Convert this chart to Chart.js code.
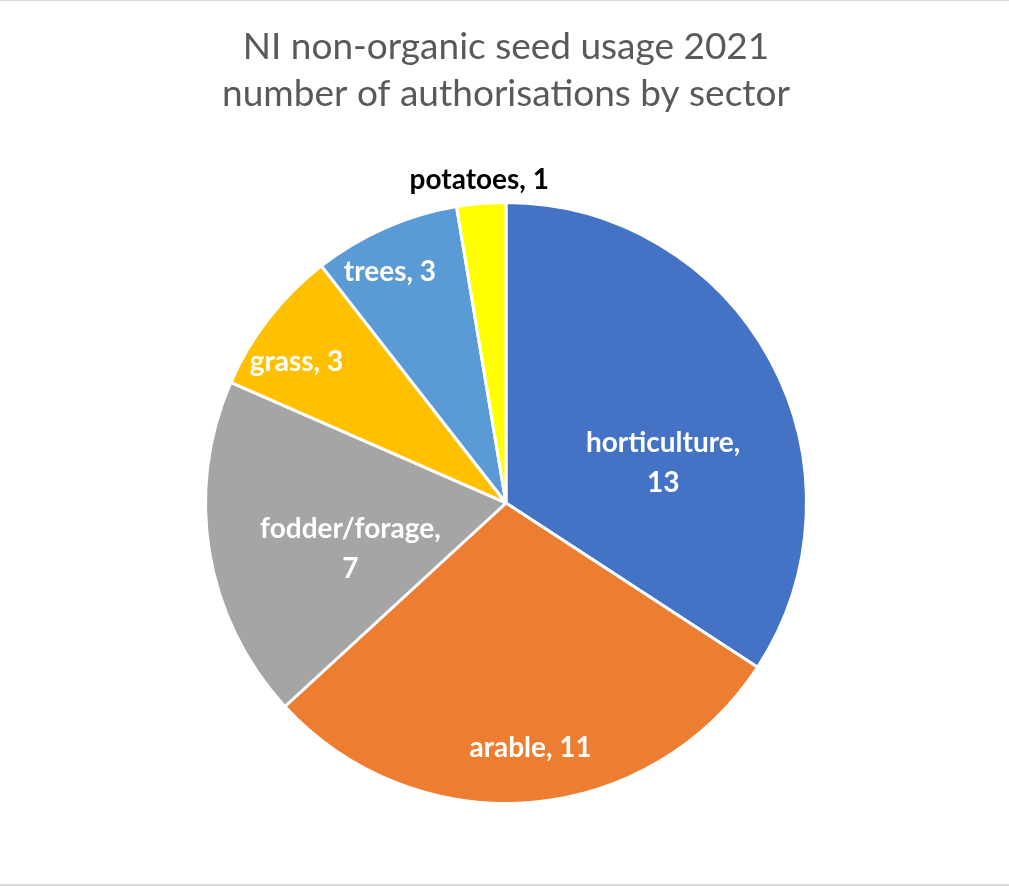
<!DOCTYPE html>
<html>
<head>
<meta charset="utf-8">
<script src="https://cdn.jsdelivr.net/npm/chart.js@4"></script>
<style>
  html, body { margin: 0; padding: 0; background: #fff; }
  #wrap { position: relative; width: 1009px; height: 886px; overflow: hidden; }
  #chart { position: absolute; left: 0; top: 0; }
  .rule { position: absolute; left: 0; width: 1009px; background: #d9d9d9; }
</style>
</head>
<body>
<div id="wrap">
  <canvas id="chart" width="1009" height="886"></canvas>
  <div class="rule" style="top:0;height:1px"></div>
  <div class="rule" style="top:884px;height:2px"></div>
</div>
<script>
// --- data ---
const sectors = ['horticulture', 'arable', 'fodder/forage', 'grass', 'trees', 'potatoes'];
const authorisations = [13, 11, 7, 3, 3, 1];
const sliceColors = ['#4472C4', '#ED7D31', '#A5A5A5', '#FFC000', '#5B9BD5', '#FFFF00'];
const titleLines = ['NI non-organic seed usage 2021', 'number of authorisations by sector'];

// label placement, as a fraction of the radius and a shift off the slice middle (degrees)
const labelRadius = [0.54, 0.82, 0.54, 0.84, 0.86, 1.08];
const labelShift = [14, -1, -7, -4, -3, 0];
const labelLines = [['horticulture,', '13'], ['arable, 11'], ['fodder/forage,', '7'], ['grass, 3'], ['trees, 3'], ['potatoes, 1']];
const labelColors = ['#fff', '#fff', '#fff', '#fff', '#fff', '#000'];

const fontFamily = 'Lato, "Open Sans", sans-serif';

// draws the data labels Excel-style
const sliceLabels = {
  id: 'sliceLabels',
  afterDatasetsDraw(chart) {
    const ctx = chart.ctx;
    const meta = chart.getDatasetMeta(0);
    ctx.save();
    ctx.font = 'bold 28px ' + fontFamily;
    ctx.textAlign = 'center';
    ctx.textBaseline = 'middle';
    meta.data.forEach((arc, i) => {
      const p = arc.getProps(['x', 'y', 'startAngle', 'endAngle', 'outerRadius'], true);
      const mid = (p.startAngle + p.endAngle) / 2 + labelShift[i] * Math.PI / 180;
      const r = p.outerRadius * labelRadius[i];
      const cx = p.x + Math.cos(mid) * r;
      const cy = p.y + Math.sin(mid) * r;
      const lines = labelLines[i];
      const lh = 40;
      ctx.fillStyle = labelColors[i];
      lines.forEach((t, k) => {
        ctx.fillText(t, cx, cy + (k - (lines.length - 1) / 2) * lh);
      });
    });
    ctx.restore();
  }
};

const ctx = document.getElementById('chart').getContext('2d');
new Chart(ctx, {
  type: 'pie',
  data: {
    labels: sectors,
    datasets: [{
      data: authorisations,
      backgroundColor: sliceColors,
      borderColor: '#ffffff',
      borderWidth: 3
    }]
  },
  options: {
    responsive: false,
    animation: false,
    layout: { padding: { top: 0, bottom: 81, left: 204, right: 201 } },
    plugins: {
      legend: { display: false },
      tooltip: { enabled: false },
      title: {
        display: true,
        text: titleLines,
        color: '#595959',
        font: { family: fontFamily, size: 37, weight: 'normal', lineHeight: 1.27 },
        padding: { top: 24, bottom: 83 }
      }
    }
  },
  plugins: [sliceLabels]
});
</script>
</body>
</html>
